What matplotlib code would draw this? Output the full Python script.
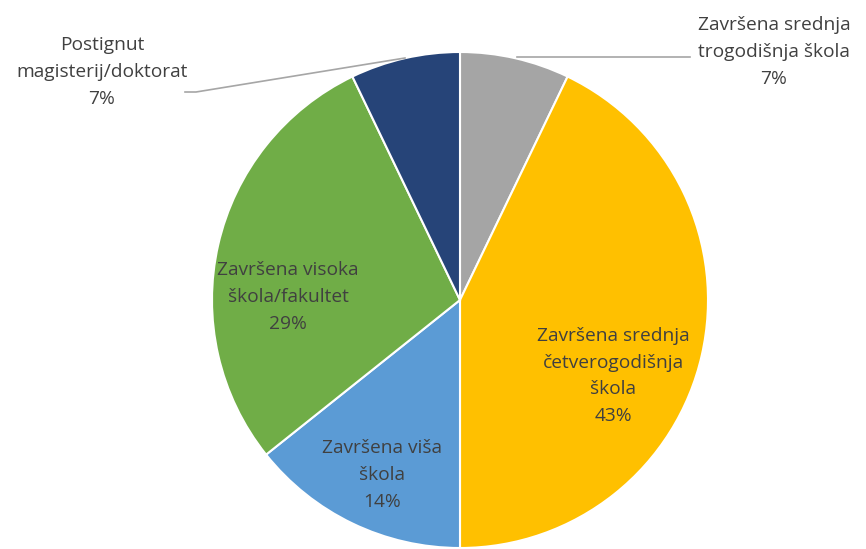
import matplotlib.pyplot as plt

# education levels, counts read as 1/14 shares
labels = ['Završena srednja\ntrogodišnja škola', 'Završena srednja\nčetverogodišnja\nškola',
          'Završena viša\nškola', 'Završena visoka\nškola/fakultet', 'Postignut\nmagisterij/doktorat']
counts = [1, 6, 2, 4, 1]
colors = ['#A5A5A5', '#FFC000', '#5B9BD5', '#70AD47', '#264478']

W, H = 866, 549
fig = plt.figure(figsize=(W / 100, H / 100), dpi=100)
ax = fig.add_axes([0, 0, 1, 1])
ax.axis('off')

wedges, _ = ax.pie(counts, colors=colors, startangle=90, counterclock=False,
                   center=(460, H - 300), radius=248,
                   wedgeprops=dict(edgecolor='white', linewidth=1.5))
ax.set_xlim(0, W)
ax.set_ylim(0, H)
ax.set_aspect('equal')

total = sum(counts)
pct = [f'{round(c / total * 100)}%' for c in counts]

font = dict(family='Open Sans', fontsize=13.8, color='#404040', ha='center', va='center', linespacing=1.62)

# label positions in pixel coords (top-left origin)
pos = [(774, 52), (613, 376), (382, 475), (288, 297), (102, 72)]
for lab, p, (x, y) in zip(labels, pct, pos):
    ax.text(x, H - y, lab + '\n' + p, **font)

# leader lines
ax.plot([517, 690], [H - 57, H - 57], color='#A6A6A6', lw=1.2)
ax.plot([185, 196, 405], [H - 92, H - 92, H - 58], color='#A6A6A6', lw=1.2)

fig.savefig('out.png', dpi=100)
